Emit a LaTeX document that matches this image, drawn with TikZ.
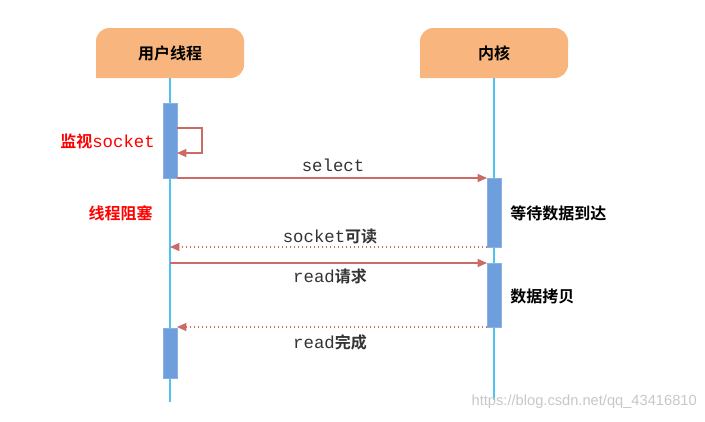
\documentclass[tikz,border=0pt]{standalone}
\usepackage{fontspec}
\setmainfont{Liberation Mono}
\newfontfamily\cjk{Noto Sans CJK SC}[BoldFont={* Bold}]
\usetikzlibrary{arrows.meta}
\definecolor{hdr}{HTML}{F8B67E}
\definecolor{act}{HTML}{6E9EDB}
\definecolor{life}{HTML}{4CC4F2}
\definecolor{arr}{HTML}{CC6A66}
\begin{document}
\begin{tikzpicture}[x=0.75pt,y=-0.75pt,
  hdr/.style={fill=hdr,draw=none},
  life/.style={draw=life,line width=1.2pt},
  act/.style={fill=act,draw=act!80!white},
  msg/.style={draw=arr,line width=1pt,-{Triangle[length=7pt,width=6pt]}},
  ret/.style={msg,dotted},
  lab/.style={font=\fontsize{13}{13}\selectfont,text=black!80,inner sep=0},
  cj/.style={font=\cjk\bfseries\fontsize{12}{12}\selectfont,inner sep=0}]
\useasboundingbox (0,0) rectangle (705,421);
\fill[hdr,rounded corners=10pt] (96,78) -- (96,28) -- (244,28) -- (244,78) [sharp corners] -- cycle;
\fill[hdr,rounded corners=10pt] (420,78) -- (420,28) -- (568,28) -- (568,78) [sharp corners] -- cycle;
\node[cj] (u) at (170,53) {用户线程};
\node[cj] (k) at (494,53) {内核};
\coordinate (ub) at (170,78); \coordinate (ue) at (170,402);
\coordinate (kb) at (494,78); \coordinate (ke) at (494,400);
\draw[life] (ub) -- (ue);
\draw[life] (kb) -- (ke);
\draw[act] (163,103) rectangle (177,178);
\draw[act] (487,178) rectangle (501,247);
\draw[act] (487,263) rectangle (501,327);
\draw[act] (163,328) rectangle (177,378);
\coordinate (l1) at (177,128); \coordinate (l2) at (177,153);
\draw[msg] (l1) -- (202,128) -- (202,153) -- (l2);
\node[anchor=east,inner sep=0,text=red] (m) at (155,141) {{\cjk\bfseries\fontsize{12}{12}\selectfont 监视}\fontsize{13}{13}\selectfont socket};
\node[cj,text=red,anchor=east] (b) at (153,213) {线程阻塞};
\coordinate (s1) at (177,178); \coordinate (s2) at (487,178);
\draw[msg] (s1) -- (s2);
\node[lab] (sl) at (333,165) {select};
\node[cj,anchor=west] (w) at (510,213) {等待数据到达};
\coordinate (r1) at (487,247); \coordinate (r2) at (170,247);
\draw[ret] (r1) -- (r2);
\node[lab] (rl) at (330,236) {socket{\cjk\bfseries\fontsize{12}{12}\selectfont 可读}};
\coordinate (q1) at (170,263); \coordinate (q2) at (487,263);
\draw[msg] (q1) -- (q2);
\node[lab] (ql) at (330,276) {read{\cjk\bfseries\fontsize{12}{12}\selectfont 请求}};
\node[cj,anchor=west] (c) at (510,296) {数据拷贝};
\coordinate (d1) at (487,327); \coordinate (d2) at (177,327);
\draw[ret] (d1) -- (d2);
\node[lab] (dl) at (330,342) {read{\cjk\bfseries\fontsize{12}{12}\selectfont 完成}};
\node[anchor=east,inner sep=0,text=black!22,font={\fontspec{Liberation Sans}\fontsize{11}{11}\selectfont}] (wm) at (697,402) {https://blog.csdn.net/qq\_43416810};
\end{tikzpicture}
\end{document}
